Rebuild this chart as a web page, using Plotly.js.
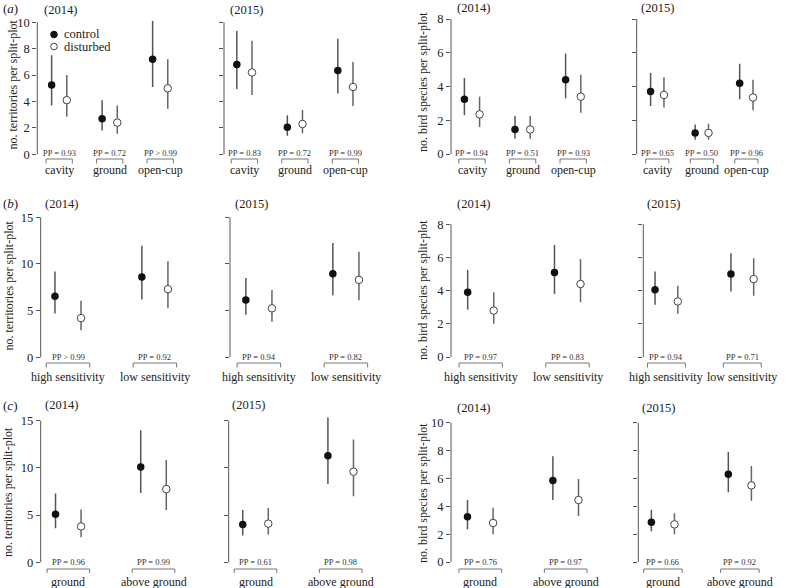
<!DOCTYPE html>
<html>
<head>
<meta charset="utf-8">
<script src="https://cdn.plot.ly/plotly-3.0.1.min.js"></script>
<style>
  html, body { margin: 0; padding: 0; background: #fff; }
  #chart { width: 794px; height: 588px; }
</style>
</head>
<body>
<div id="chart"></div>
<script>
// categories
let nestCats = ['cavity', 'ground', 'open-cup'];
let sensCats = ['high sensitivity', 'low sensitivity'];
let heightCats = ['ground', 'above ground'];

// y ticks
let ticks10 = [0, 2, 4, 6, 8, 10];
let ticks8 = [0, 2, 4, 6, 8];
let ticks15 = [0, 5, 10, 15];

// each row is [estimate, lower, upper]
// (a) nest type, territories
let nestTerr2014Control = [[5.25, 3.7, 7.5], [2.7, 1.8, 4.1], [7.2, 5.1, 10.1]];
let nestTerr2014Disturbed = [[4.1, 2.85, 6.0], [2.4, 1.55, 3.7], [5.0, 3.45, 7.2]];
let nestTerr2014PP = ['PP = 0.93', 'PP = 0.72', 'PP > 0.99'];
let nestTerr2015Control = [[6.8, 4.95, 9.35], [2.05, 1.4, 2.95], [6.35, 4.6, 8.75]];
let nestTerr2015Disturbed = [[6.2, 4.5, 8.6], [2.3, 1.6, 3.35], [5.1, 3.65, 7.0]];
let nestTerr2015PP = ['PP = 0.83', 'PP = 0.72', 'PP = 0.99'];

// (a) nest type, species
let nestSpec2014Control = [[3.25, 2.3, 4.5], [1.45, 0.9, 2.25], [4.4, 3.3, 5.95]];
let nestSpec2014Disturbed = [[2.35, 1.6, 3.4], [1.45, 0.9, 2.25], [3.4, 2.45, 4.7]];
let nestSpec2014PP = ['PP = 0.94', 'PP = 0.51', 'PP = 0.93'];
let nestSpec2015Control = [[3.7, 2.85, 4.8], [1.25, 0.85, 1.75], [4.2, 3.25, 5.35]];
let nestSpec2015Disturbed = [[3.5, 2.75, 4.55], [1.25, 0.85, 1.8], [3.35, 2.6, 4.4]];
let nestSpec2015PP = ['PP = 0.65', 'PP = 0.50', 'PP = 0.96'];

// (b) sensitivity, territories
let sensTerr2014Control = [[6.55, 4.7, 9.2], [8.6, 6.2, 11.95]];
let sensTerr2014Disturbed = [[4.2, 2.9, 6.05], [7.3, 5.25, 10.3]];
let sensTerr2014PP = ['PP > 0.99', 'PP = 0.92'];
let sensTerr2015Control = [[6.15, 4.55, 8.5], [8.95, 6.65, 12.25]];
let sensTerr2015Disturbed = [[5.25, 3.8, 7.2], [8.3, 6.1, 11.3]];
let sensTerr2015PP = ['PP = 0.94', 'PP = 0.82'];

// (b) sensitivity, species
let sensSpec2014Control = [[3.9, 2.85, 5.25], [5.1, 3.8, 6.75]];
let sensSpec2014Disturbed = [[2.8, 2.0, 3.9], [4.4, 3.3, 5.9]];
let sensSpec2014PP = ['PP = 0.97', 'PP = 0.83'];
let sensSpec2015Control = [[4.05, 3.15, 5.15], [5.0, 3.95, 6.25]];
let sensSpec2015Disturbed = [[3.35, 2.6, 4.3], [4.7, 3.7, 5.95]];
let sensSpec2015PP = ['PP = 0.94', 'PP = 0.71'];

// (c) nest height, territories
let heightTerr2014Control = [[5.1, 3.6, 7.3], [10.1, 7.35, 14.0]];
let heightTerr2014Disturbed = [[3.8, 2.65, 5.6], [7.75, 5.55, 10.85]];
let heightTerr2014PP = ['PP = 0.96', 'PP = 0.99'];
let heightTerr2015Control = [[4.0, 2.85, 5.55], [11.3, 8.3, 15.35]];
let heightTerr2015Disturbed = [[4.1, 2.95, 5.75], [9.6, 7.0, 13.0]];
let heightTerr2015PP = ['PP = 0.61', 'PP = 0.98'];

// (c) nest height, species
let heightSpec2014Control = [[3.25, 2.35, 4.45], [5.85, 4.45, 7.6]];
let heightSpec2014Disturbed = [[2.8, 2.0, 3.9], [4.45, 3.3, 5.95]];
let heightSpec2014PP = ['PP = 0.76', 'PP = 0.97'];
let heightSpec2015Control = [[2.85, 2.2, 3.75], [6.3, 5.0, 7.9]];
let heightSpec2015Disturbed = [[2.7, 2.0, 3.5], [5.5, 4.4, 6.9]];
let heightSpec2015PP = ['PP = 0.66', 'PP = 0.92'];

let W = 794;
let H = 588;
let FONT = 'Liberation Serif';
let terrTitle = 'no. territories per split-plot';
let specTitle = 'no. bird species per split-plot';

// row positions in pixels (text / brackets under the plots)
let rows = {
    a: { letter: '(<i>a</i>)', letterY: 9, ppY: 153, brTop: 159, brBot: 163.5, catY: 170, half: 0.26 },
    b: { letter: '(<i>b</i>)', letterY: 204, ppY: 356.5, brTop: 363, brBot: 367.5, catY: 376.5, half: 0.25 },
    c: { letter: '(<i>c</i>)', letterY: 405, ppY: 561.5, brTop: 569, brBot: 573, catY: 581.5, half: 0.25 }
};

let panels = [
    { row: 'a', year: '(2014)', ctrl: nestTerr2014Control, dist: nestTerr2014Disturbed, pp: nestTerr2014PP, cats: nestCats,
      axisPx: 37.3, c0: 59.2, unit: 50.5, zeroPx: 154.3, topPx: 22.3, ticks: ticks10, labels: true,
      titleX: 42, titleY: 10, ytitle: terrTitle, ytX: 12.5, ytY: 85 },
    { row: 'a', year: '(2015)', ctrl: nestTerr2015Control, dist: nestTerr2015Disturbed, pp: nestTerr2015PP, cats: nestCats,
      axisPx: 224, c0: 244.4, unit: 50.5, zeroPx: 154.3, topPx: 22.3, ticks: ticks10, labels: false,
      titleX: 228, titleY: 10 },
    { row: 'a', year: '(2014)', ctrl: nestSpec2014Control, dist: nestSpec2014Disturbed, pp: nestSpec2014PP, cats: nestCats,
      axisPx: 451, c0: 472, unit: 50.6, zeroPx: 154, topPx: 19, ticks: ticks8, labels: true,
      titleX: 455, titleY: 8, ytitle: specTitle, ytX: 423, ytY: 82 },
    { row: 'a', year: '(2015)', ctrl: nestSpec2015Control, dist: nestSpec2015Disturbed, pp: nestSpec2015PP, cats: nestCats,
      axisPx: 636.7, c0: 659.2, unit: 48.7, zeroPx: 154, topPx: 19, ticks: ticks8, labels: false,
      titleX: 639, titleY: 8 },

    { row: 'b', year: '(2014)', ctrl: sensTerr2014Control, dist: sensTerr2014Disturbed, pp: sensTerr2014PP, cats: sensCats,
      axisPx: 40.7, c0: 68, unit: 86.9, zeroPx: 357.3, topPx: 217.3, ticks: ticks15, labels: true,
      titleX: 43, titleY: 204, ytitle: terrTitle, ytX: 8.5, ytY: 286 },
    { row: 'b', year: '(2015)', ctrl: sensTerr2015Control, dist: sensTerr2015Disturbed, pp: sensTerr2015PP, cats: sensCats,
      axisPx: 230, c0: 258.9, unit: 87, zeroPx: 357.3, topPx: 217.3, ticks: ticks15, labels: false,
      titleX: 233, titleY: 204 },
    { row: 'b', year: '(2014)', ctrl: sensSpec2014Control, dist: sensSpec2014Disturbed, pp: sensSpec2014PP, cats: sensCats,
      axisPx: 451, c0: 480.7, unit: 86.8, zeroPx: 357, topPx: 224.3, ticks: ticks8, labels: true,
      titleX: 455, titleY: 204, ytitle: specTitle, ytX: 423, ytY: 290 },
    { row: 'b', year: '(2015)', ctrl: sensSpec2015Control, dist: sensSpec2015Disturbed, pp: sensSpec2015PP, cats: sensCats,
      axisPx: 643.3, c0: 669.7, unit: 86.6, zeroPx: 357, topPx: 224.3, ticks: ticks8, labels: false,
      titleX: 645, titleY: 204 },

    { row: 'c', year: '(2014)', ctrl: heightTerr2014Control, dist: heightTerr2014Disturbed, pp: heightTerr2014PP, cats: heightCats,
      axisPx: 40.7, c0: 68.3, unit: 85.2, zeroPx: 562.3, topPx: 420.7, ticks: ticks15, labels: true,
      titleX: 43, titleY: 405, ytitle: terrTitle, ytX: 8, ytY: 492 },
    { row: 'c', year: '(2015)', ctrl: heightTerr2015Control, dist: heightTerr2015Disturbed, pp: heightTerr2015PP, cats: heightCats,
      axisPx: 228.7, c0: 255.5, unit: 85.2, zeroPx: 562.3, topPx: 420.7, ticks: ticks15, labels: false,
      titleX: 230, titleY: 405 },
    { row: 'c', year: '(2014)', ctrl: heightSpec2014Control, dist: heightSpec2014Disturbed, pp: heightSpec2014PP, cats: heightCats,
      axisPx: 451, c0: 480.3, unit: 85.4, zeroPx: 562, topPx: 422.7, ticks: ticks10, labels: true,
      titleX: 455, titleY: 408, ytitle: specTitle, ytX: 423, ytY: 493 },
    { row: 'c', year: '(2015)', ctrl: heightSpec2015Control, dist: heightSpec2015Disturbed, pp: heightSpec2015PP, cats: heightCats,
      axisPx: 638.3, c0: 665.5, unit: 85, zeroPx: 562, topPx: 422.7, ticks: ticks10, labels: false,
      titleX: 640, titleY: 408 }
];

let px2x = function (px) { return px / W; };
let px2y = function (px) { return 1 - px / H; };

let errorOf = function (rowsData, color) {
    return {
        type: 'data',
        symmetric: false,
        array: rowsData.map(r => r[2] - r[0]),
        arrayminus: rowsData.map(r => r[0] - r[1]),
        width: 0,
        thickness: 1.5,
        color: color
    };
};

let traces = [];
let annotations = [];
let shapes = [];
let layout = {
    width: W,
    height: H,
    margin: { l: 0, r: 0, t: 0, b: 0 },
    paper_bgcolor: '#fff',
    plot_bgcolor: 'rgba(0,0,0,0)',
    showlegend: false,
    font: { family: FONT, size: 12, color: '#222' }
};

panels.forEach(function (p, k) {
    let n = k + 1;
    let sfx = n === 1 ? '' : String(n);
    let xa = 'x' + sfx;
    let ya = 'y' + sfx;
    let row = rows[p.row];
    let ymax = p.ticks[p.ticks.length - 1];
    let ppu = (p.zeroPx - p.topPx) / ymax;
    let padTop = 16;
    let padBot = 4;
    let widthPx = 172;

    layout['xaxis' + sfx] = {
        domain: [px2x(p.axisPx), px2x(p.axisPx + widthPx)],
        range: [(p.axisPx - p.c0) / p.unit, (p.axisPx + widthPx - p.c0) / p.unit],
        anchor: ya,
        visible: false,
        fixedrange: true
    };
    layout['yaxis' + sfx] = {
        domain: [px2y(p.zeroPx + padBot), px2y(p.topPx - padTop)],
        range: [-padBot / ppu, ymax + padTop / ppu],
        anchor: xa,
        tickmode: 'array',
        tickvals: p.ticks,
        showticklabels: p.labels,
        ticks: 'outside',
        ticklen: 4,
        tickwidth: 1,
        tickcolor: '#555',
        tickfont: { family: FONT, size: 12.5, color: '#222' },
        showgrid: false,
        zeroline: false,
        showline: false,
        fixedrange: true
    };

    let idx = p.cats.map((c, i) => i);

    traces.push({
        type: 'scatter', mode: 'markers', xaxis: xa, yaxis: ya, name: 'control',
        x: idx.map(i => i - 0.15),
        y: p.ctrl.map(r => r[0]),
        error_y: errorOf(p.ctrl, '#555'),
        marker: { symbol: 'circle', size: 7.5, color: '#111', line: { width: 0 } },
        hoverinfo: 'skip'
    });
    traces.push({
        type: 'scatter', mode: 'markers', xaxis: xa, yaxis: ya, name: 'disturbed',
        x: idx.map(i => i + 0.15),
        y: p.dist.map(r => r[0]),
        error_y: errorOf(p.dist, '#666'),
        marker: { symbol: 'circle', size: 7.5, color: '#fff', line: { width: 1, color: '#444' } },
        hoverinfo: 'skip'
    });

    // y axis line only over the tick span, like base R
    shapes.push({
        type: 'line', xref: xa + ' domain', yref: ya,
        x0: 0, x1: 0, y0: 0, y1: ymax,
        line: { color: '#555', width: 1 }
    });

    p.cats.forEach(function (cat, i) {
        annotations.push({
            xref: xa, yref: 'paper', x: i, y: px2y(row.ppY),
            text: p.pp[i], showarrow: false, xanchor: 'center', yanchor: 'middle',
            font: { family: FONT, size: 8.5, color: '#333' }
        });
        annotations.push({
            xref: xa, yref: 'paper', x: i, y: px2y(row.catY),
            text: cat, showarrow: false, xanchor: 'center', yanchor: 'middle',
            font: { family: FONT, size: 12, color: '#222' }
        });
        let x0 = i - row.half;
        let x1 = i + row.half;
        let yt = px2y(row.brTop);
        let yb = px2y(row.brBot);
        shapes.push({
            type: 'path', xref: xa, yref: 'paper',
            path: 'M' + x0 + ',' + yb + ' L' + x0 + ',' + yt + ' L' + x1 + ',' + yt + ' L' + x1 + ',' + yb,
            line: { color: '#777', width: 1 }
        });
    });

    annotations.push({
        xref: 'paper', yref: 'paper', x: px2x(p.titleX), y: px2y(p.titleY),
        text: p.year, showarrow: false, xanchor: 'left', yanchor: 'middle',
        font: { family: FONT, size: 12.5, color: '#222' }
    });

    if (p.ytitle) {
        annotations.push({
            xref: 'paper', yref: 'paper', x: px2x(p.ytX), y: px2y(p.ytY),
            text: p.ytitle, textangle: -90, showarrow: false,
            xanchor: 'center', yanchor: 'middle',
            font: { family: FONT, size: 12, color: '#222' }
        });
    }
});

// panel letters
Object.keys(rows).forEach(function (key) {
    annotations.push({
        xref: 'paper', yref: 'paper', x: px2x(1), y: px2y(rows[key].letterY),
        text: rows[key].letter, showarrow: false, xanchor: 'left', yanchor: 'middle',
        font: { family: FONT, size: 13, color: '#222' }
    });
});

// legend in the first panel
let legendItems = [
    { label: 'control', y: 34.5, fill: '#111', stroke: '#111' },
    { label: 'disturbed', y: 46.5, fill: '#fff', stroke: '#444' }
];
legendItems.forEach(function (item) {
    let r = 3.3;
    shapes.push({
        type: 'circle', xref: 'paper', yref: 'paper',
        x0: px2x(54 - r), x1: px2x(54 + r), y0: px2y(item.y + r), y1: px2y(item.y - r),
        fillcolor: item.fill, line: { color: item.stroke, width: 1 }
    });
    annotations.push({
        xref: 'paper', yref: 'paper', x: px2x(62), y: px2y(item.y),
        text: item.label, showarrow: false, xanchor: 'left', yanchor: 'middle',
        font: { family: FONT, size: 12.5, color: '#222' }
    });
});

layout.annotations = annotations;
layout.shapes = shapes;

Plotly.newPlot('chart', traces, layout, { displayModeBar: false, staticPlot: true });
</script>
</body>
</html>
